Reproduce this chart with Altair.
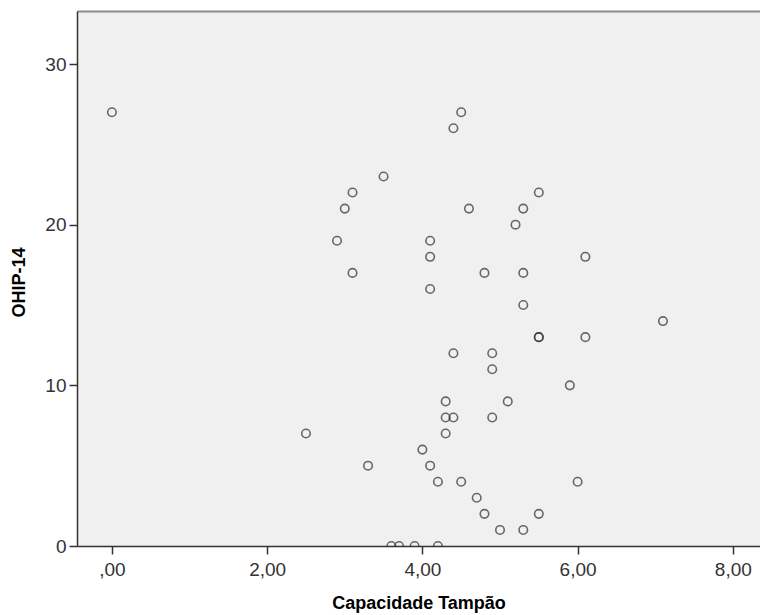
import altair as alt
import pandas as pd

# Capacidade Tampão (x) and OHIP-14 (y)
capacidade = [0.0, 4.5, 4.4, 3.5, 3.1, 5.5, 3.0, 4.6, 5.3, 5.2,
              2.9, 4.1, 4.1, 6.1, 3.1, 4.8, 5.3, 4.1, 5.3, 7.1,
              5.5, 5.5, 6.1, 4.4, 4.9, 4.9, 5.9, 4.3, 5.1, 4.3,
              4.4, 4.9, 2.5, 4.3, 4.0, 3.3, 4.1, 4.2, 4.5, 6.0,
              4.7, 4.8, 5.5, 5.0, 5.3, 3.6, 3.7, 3.9, 4.2]
ohip = [27, 27, 26, 23, 22, 22, 21, 21, 21, 20,
        19, 19, 18, 18, 17, 17, 17, 16, 15, 14,
        13, 13, 13, 12, 12, 11, 10, 9, 9, 8,
        8, 8, 7, 7, 6, 5, 5, 4, 4, 4,
        3, 2, 2, 1, 1, 0, 0, 0, 0]
x_ticks = [0, 2, 4, 6, 8]
y_ticks = [0, 10, 20, 30]

df = pd.DataFrame({"cap": capacidade, "ohip": ohip})

FONT = "Liberation Sans"
x_scale = alt.Scale(domain=[-0.45, 8.35], nice=False, zero=False)
y_scale = alt.Scale(domain=[0, 33.3], nice=False, zero=False)

points = alt.Chart(df).mark_point(
    shape="circle", filled=False, size=72, stroke="#2e2e2e", strokeWidth=1.6,
    clip=True
).encode(
    x=alt.X("cap:Q", scale=x_scale, axis=alt.Axis(
        orient="bottom", values=x_ticks,
        labelExpr="datum.value == 0 ? ',00' : replace(format(datum.value, '.2f'), '.', ',')",
        grid=False, tickSize=8, tickColor="#333333", tickWidth=1.5,
        domainColor="#333333", domainWidth=1.5,
        labelFont=FONT, labelFontSize=19, labelColor="#333333", labelPadding=6,
        title="Capacidade Tampão", titleFont=FONT, titleFontSize=18,
        titleFontWeight="bold", titleColor="#000000",
        titleBaseline="top", titleY=48)),
    y=alt.Y("ohip:Q", scale=y_scale, axis=alt.Axis(
        orient="left", values=y_ticks, format="d",
        grid=False, tickSize=8, tickColor="#333333", tickWidth=1.5,
        domainColor="#333333", domainWidth=1.5,
        labelFont=FONT, labelFontSize=19, labelColor="#333333", labelPadding=3,
        title="OHIP-14", titleFont=FONT, titleFontSize=18,
        titleFontWeight="bold", titleColor="#000000", titleX=-49, titleY=271)),
)

top_frame = alt.Chart(df).mark_point(opacity=0).encode(
    x=alt.X("cap:Q", scale=x_scale, axis=alt.Axis(
        orient="top", labels=False, ticks=False, grid=False, title=None,
        domainColor="#8a8a8a", domainWidth=2)),
    y=alt.Y("ohip:Q", scale=y_scale, axis=None),
)

chart = alt.layer(points, top_frame).resolve_axis(
    x="independent", y="independent"
).properties(
    width=683, height=535,
    autosize=alt.AutoSizeParams(type="none"),
    padding={"left": 77, "top": 11, "right": 0, "bottom": 69},
    background="#ffffff",
).configure_view(fill="#f0f0f0", stroke=None)

chart.save("out.html", embed_options={"renderer": "svg", "actions": False})
